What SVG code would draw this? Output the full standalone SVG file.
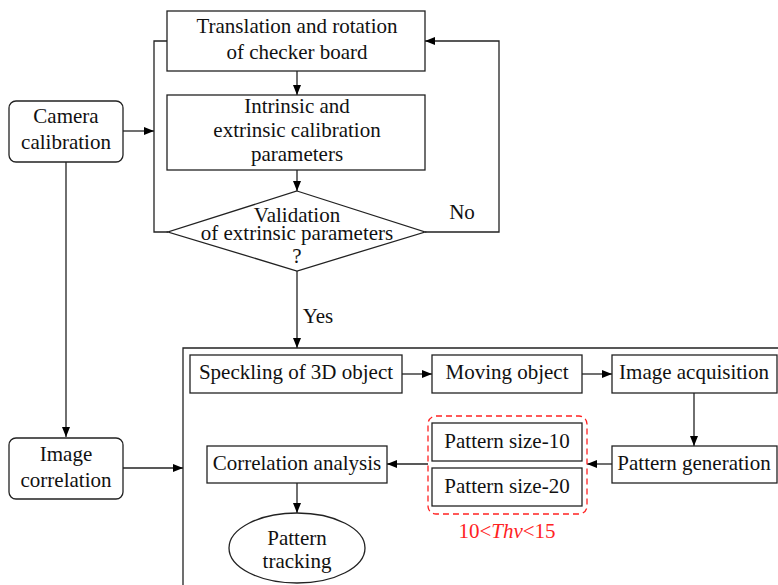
<svg xmlns="http://www.w3.org/2000/svg" width="778" height="585" viewBox="0 0 778 585">
<defs>
<marker id="ah" viewBox="0 0 10 8" refX="10" refY="4" markerWidth="10" markerHeight="8" markerUnits="userSpaceOnUse" orient="auto">
<path d="M0,0 L10,4 L0,8 z" fill="#000"/>
</marker>
<style>
.box{fill:#fff;stroke:#222;stroke-width:1.3}
.t{font-family:"Liberation Serif","Times New Roman",serif;font-size:21px;fill:#111;text-anchor:middle}
.ln{fill:none;stroke:#222;stroke-width:1.3}
.ar{fill:none;stroke:#222;stroke-width:1.3;marker-end:url(#ah)}
</style>
</defs>
<rect width="778" height="585" fill="#fff"/>
<g id="connectors">
<path class="ar" d="M297,71 V95"/>
<path class="ar" d="M297,170 V191"/>
<path class="ln" d="M168,232 H154 V41 H167"/>
<path class="ar" d="M425,232 H499 V41 H425"/>
<path class="ar" d="M123,131 H154"/>
<path class="ar" d="M66,162 V437"/>
<path class="ar" d="M123,468 H183"/>
<path class="ar" d="M297,271 V348"/>
<path class="ar" d="M402,374 H432"/>
<path class="ar" d="M582,374 H612"/>
<path class="ar" d="M694,393 V446"/>
<path class="ar" d="M612,464 H587"/>
<path class="ar" d="M428,464 H387"/>
<path class="ar" d="M297,483 V513"/>
<text class="t" x="462" y="219">No</text>
<text class="t" x="318" y="323">Yes</text>
</g>
<g id="frame">
<path class="ln" d="M183,585 V348 H778"/>
</g>
<g id="translation">
<rect class="box" x="167" y="11" width="258" height="60"/>
<text class="t" x="297" y="33">Translation and rotation</text>
<text class="t" x="297" y="59">of checker board</text>
</g>
<g id="intrinsic">
<rect class="box" x="167" y="95" width="258" height="75"/>
<text class="t" x="297" y="113">Intrinsic and</text>
<text class="t" x="297" y="137">extrinsic calibration</text>
<text class="t" x="297" y="161">parameters</text>
</g>
<g id="validation">
<polygon class="box" points="297,191 425,232 297,271 168,232"/>
<text class="t" x="297" y="222">Validation</text>
<text class="t" x="297" y="240">of extrinsic parameters</text>
<text class="t" x="297" y="263">?</text>
</g>
<g id="camera">
<rect class="box" x="9" y="101" width="114" height="61" rx="7"/>
<text class="t" x="66" y="123">Camera</text>
<text class="t" x="66" y="149">calibration</text>
</g>
<g id="imagecorr">
<rect class="box" x="9" y="438" width="114" height="61" rx="7"/>
<text class="t" x="66" y="461">Image</text>
<text class="t" x="66" y="487">correlation</text>
</g>
<g id="speckling">
<rect class="box" x="190" y="355" width="212" height="38"/>
<text class="t" x="296" y="379">Speckling of 3D object</text>
</g>
<g id="moving">
<rect class="box" x="432" y="355" width="150" height="38"/>
<text class="t" x="507" y="379">Moving object</text>
</g>
<g id="acquisition">
<rect class="box" x="612" y="355" width="165" height="38"/>
<text class="t" x="694" y="379">Image acquisition</text>
</g>
<g id="generation">
<rect class="box" x="612" y="446" width="165" height="37"/>
<text class="t" x="694" y="470">Pattern generation</text>
</g>
<g id="threshold">
<rect x="428" y="416" width="159" height="98" rx="8" fill="none" stroke="#f22" stroke-width="1.3" stroke-dasharray="6,4"/>
<text class="t" x="507" y="538" style="fill:#f22">10&lt;<tspan font-style="italic">Thv</tspan>&lt;15</text>
</g>
<g id="size10">
<rect class="box" x="432" y="423" width="150" height="38"/>
<text class="t" x="507" y="448">Pattern size-10</text>
</g>
<g id="size20">
<rect class="box" x="432" y="468" width="150" height="38"/>
<text class="t" x="507" y="493">Pattern size-20</text>
</g>
<g id="correlation">
<rect class="box" x="207" y="446" width="180" height="37"/>
<text class="t" x="297" y="470">Correlation analysis</text>
</g>
<g id="tracking">
<ellipse class="box" cx="297" cy="548" rx="68" ry="35"/>
<text class="t" x="297" y="545">Pattern</text>
<text class="t" x="297" y="568">tracking</text>
</g>
</svg>
